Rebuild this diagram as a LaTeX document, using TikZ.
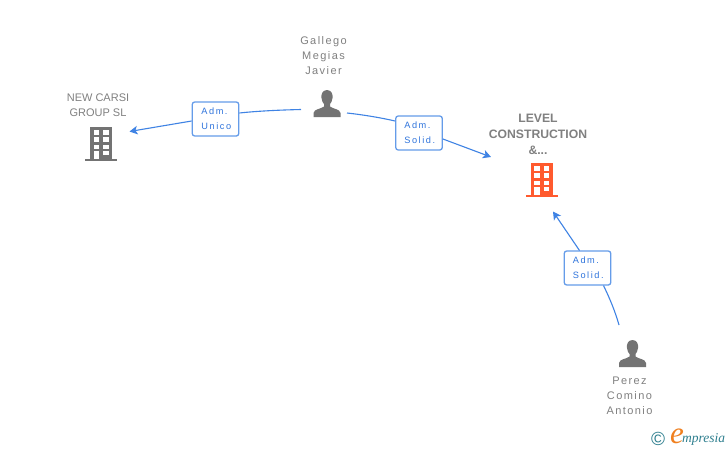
\documentclass[tikz,border=0pt]{standalone}
\usepackage{fontspec}
\setmainfont{Liberation Sans}
\newfontfamily\spacedfont[LetterSpace=13]{Liberation Sans}
\newfontfamily\badgefont[LetterSpace=17]{Liberation Sans}
\newfontfamily\logofont[Ligatures=TeX]{Liberation Serif}
\usetikzlibrary{arrows.meta}
\definecolor{edgeblue}{HTML}{3F83E4}
\definecolor{badgeblue}{HTML}{2F74DC}
\definecolor{icongrey}{HTML}{737373}
\definecolor{textgrey}{HTML}{808080}
\definecolor{hotorange}{HTML}{FF5A2E}
\definecolor{logoteal}{HTML}{2E7F8F}
\definecolor{logoorange}{HTML}{F08020}
\tikzset{
  x=1pt,y=-1pt,
  edgeline/.style={edgeblue,line width=1.1pt},
  arrowed/.style={edgeline,-{Stealth[length=8pt,width=8.5pt,inset=2pt]}},
  badge/.style={draw=edgeblue!80!white,line width=1.3pt,rounded corners=2.5pt,fill=white,
    minimum width=46.5pt,minimum height=34pt,inner sep=0pt,text=badgeblue,
    font=\badgefont\fontsize{9.2}{15}\selectfont,align=left},
  lab/.style={text=textgrey,align=center,inner sep=0pt},
  person/.style={font=\spacedfont\fontsize{11}{15}\selectfont,lab},
  company/.style={font=\fontsize{11}{15}\selectfont,lab},
  hot/.style={font=\bfseries\fontsize{12.2}{16}\selectfont,lab},
  personicon/.pic={
    \fill[icongrey] (0,-14) .. controls (-5,-14) and (-6,-9) .. (-5.5,-6)
      .. controls (-5.2,-3) and (-4,-1) .. (-3,0) -- (-3,2.5)
      .. controls (-6,5) and (-13,5) .. (-13.5,9) -- (-13.5,13) -- (13.5,13) -- (13.5,9)
      .. controls (13,5) and (6,5) .. (3,2.5) -- (3,0)
      .. controls (4,-1) and (5.2,-3) .. (5.5,-6)
      .. controls (6,-9) and (5,-14) .. (0,-14) -- cycle;
  },
  buildingicon/.pic={
    \fill[pic actions] (-16,15) rectangle (16,17);
    \fill[pic actions] (-11,-17) rectangle (11,15);
    \foreach \yy in {-13.7,-6.7,0.5} {
      \fill[white] (-7.3,\yy) rectangle (-2,\yy+4.6);
      \fill[white] (2.3,\yy) rectangle (7.7,\yy+4.6);
    }
    \fill[white] (2.3,6.7) rectangle (7.7,11);
    \fill[white] (-7.3,6.7) rectangle (-2,15);
  }
}
\begin{document}
\begin{tikzpicture}
\useasboundingbox[fill=white] (0,0) rectangle (728,450);
% icons
\coordinate (gallegoicon) at (327,104);
\coordinate (pereziconc) at (632.5,354);
\coordinate (newcarsiicon) at (101,144);
\coordinate (levelicon) at (541.5,180);
\pic at (gallegoicon) {personicon};
\pic at (pereziconc) {personicon};
\pic[fill=icongrey] at (newcarsiicon) {buildingicon};
\pic[fill=hotorange] at (levelicon) {buildingicon};
% labels
\node[person] (gallego) at (323.5,56) {Gallego\\Megias\\Javier};
\node[company] (newcarsi) at (98,105.5) {NEW CARSI\\GROUP SL};
\node[hot] (level) at (538,134) {LEVEL\\CONSTRUCTION\\\&...};
\node[person] (perez) at (629.5,396) {Perez\\Comino\\Antonio};
% connector ends
\coordinate (gstart) at (301,109.5);
\coordinate (gstartb) at (347,113);
\coordinate (pstart) at (619,325);
\coordinate (ncend) at (129.5,131.5);
\coordinate (lvend) at (491,157);
\coordinate (lvendb) at (553,211.5);
% badges
\node[badge,name=badgea] at (215.5,119) {\,Adm.\\\,Unico};
\node[badge,name=badgeb] at (419,133) {\,Adm.\\\,Solid.};
\node[badge,name=badgec] at (587.5,268) {\,Adm.\\\,Solid.};
% connectors
\draw[edgeline] (gstart) .. controls (280,110) and (258,111) .. (badgea.east |- 0,113);
\draw[arrowed] (badgea.west |- 0,121) -- (ncend);
\draw[edgeline] (gstartb) .. controls (365,115) and (382,118) .. (badgeb.west |- 0,121);
\draw[arrowed] (badgeb.east |- 0,139) -- (lvend);
\draw[edgeline] (pstart) .. controls (615,311) and (610,299) .. (603.5,285.5);
\draw[arrowed] (579.5,250.5) -- (lvendb);
% logo
\node[name=copyr,text=logoteal,inner sep=0pt,font=\fontsize{19}{19}\selectfont] at (658,439) {©};
\node[name=logoe,text=logoorange,inner sep=0pt,font=\logofont\itshape\fontsize{31}{31}\selectfont] at (677,436) {e};
\node[name=logotxt,text=logoteal,inner sep=0pt,anchor=west,font=\logofont\itshape\fontsize{13.5}{13.5}\selectfont] at (682,439.5) {mpresia};
\end{tikzpicture}
\end{document}
